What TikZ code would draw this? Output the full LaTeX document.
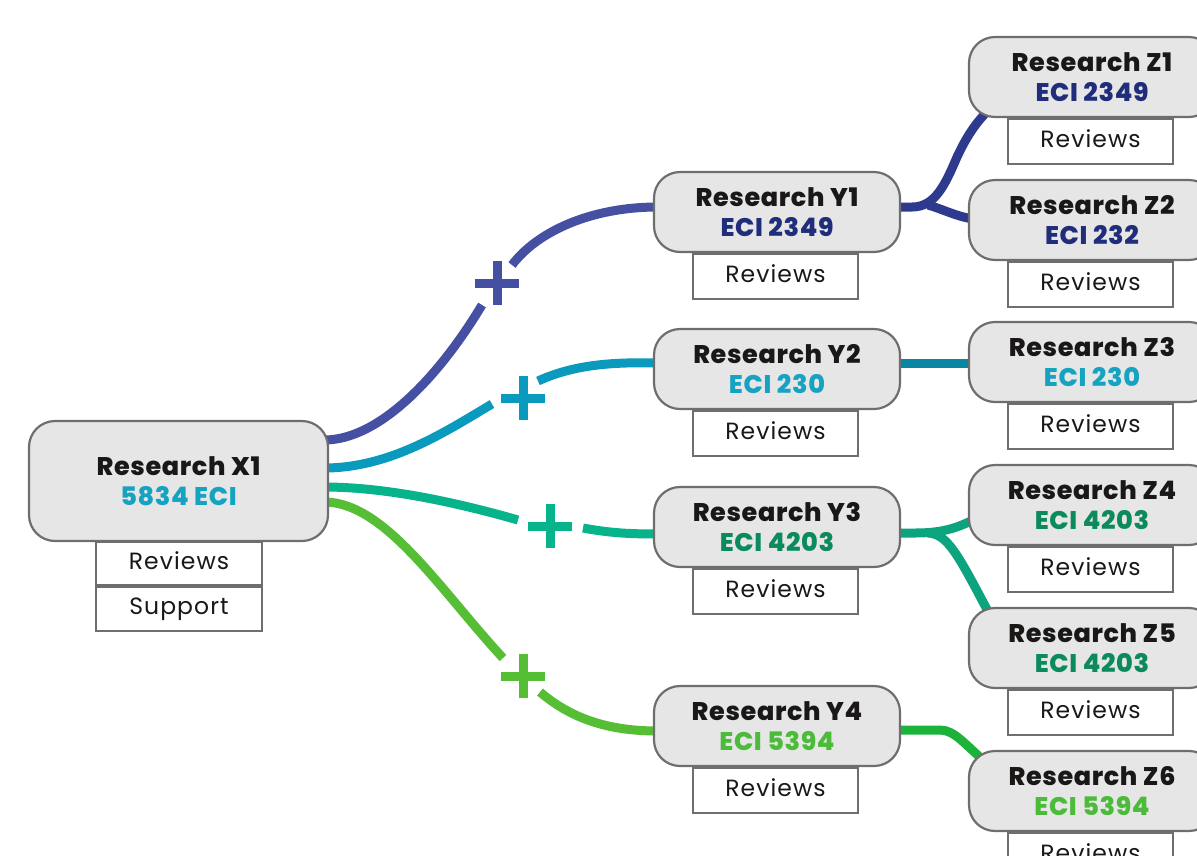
\documentclass[tikz,border=0pt]{standalone}
\usepackage{fontspec}
\setmainfont{Poppins}
\newfontfamily\revfont{Poppins}[LetterSpace=4.5]
\newfontfamily\headfont{Poppins ExtraBold}[LetterSpace=2.5]
\usetikzlibrary{calc,positioning}
\definecolor{nodefill}{HTML}{E6E6E6}
\definecolor{nodegray}{HTML}{6E6E6E}
\definecolor{headtext}{HTML}{1A1717}
\definecolor{tNavy}{HTML}{1F2D7B}
\definecolor{tTeal}{HTML}{16A3C2}
\definecolor{tGT}{HTML}{0B8A5C}
\definecolor{tGreen}{HTML}{4CBB3A}
\definecolor{cBlue}{HTML}{4550A2}
\definecolor{cBlueZ}{HTML}{2E3A8E}
\definecolor{cTeal}{HTML}{0A9ABD}
\definecolor{cTealZ}{HTML}{0A86A2}
\definecolor{cGT}{HTML}{06B38A}
\definecolor{cGTZ}{HTML}{0CA37F}
\definecolor{cGreen}{HTML}{55BE35}
\definecolor{cGreenZ}{HTML}{1BB33A}
\pgfdeclarelayer{bg}
\pgfdeclarelayer{mid}
\pgfsetlayers{bg,mid,main}
\tikzset{
  mainbox/.style={draw=nodegray, fill=nodefill, line width=2.2pt, rounded corners=26pt,
    minimum width=246pt, minimum height=80pt, align=center, inner sep=0pt,
    text=headtext, font=\headfont\fontsize{25.5}{30}\selectfont},
  revbox/.style={draw=nodegray, fill=white, line width=2pt, minimum width=165pt,
    minimum height=45pt, inner sep=0pt, anchor=north, text=headtext,
    text height=17pt, text depth=6pt,
    font=\revfont\fontsize{23.5}{28}\selectfont},
  conn/.style={line width=9pt},
  plusnode/.style={inner sep=0pt, minimum size=43pt, draw=none}
}
\begin{document}
\begin{tikzpicture}[x=1pt,y=-1pt]
\useasboundingbox (0,0) rectangle (1197,855);
\clip (0,0) rectangle (1197,855);
% main nodes
\node[mainbox, minimum width=299pt, minimum height=120pt] (x1) at (178.5,481) {Research X1\\\color{tTeal}5834 ECI};
\node[mainbox] (y1) at (777,212) {Research Y1\\\color{tNavy}ECI 2349};
\node[mainbox] (y2) at (777,369) {Research Y2\\\color{tTeal}ECI 230};
\node[mainbox] (y3) at (777,527) {Research Y3\\\color{tGT}ECI 4203};
\node[mainbox] (y4) at (777,726) {Research Y4\\\color{tGreen}ECI 5394};
\node[mainbox] (z1) at (1092,77) {Research Z1\\\color{tNavy}ECI 2349};
\node[mainbox] (z2) at (1092,220) {Research Z2\\\color{tNavy}ECI 232};
\node[mainbox] (z3) at (1092,362) {Research Z3\\\color{tTeal}ECI 230};
\node[mainbox] (z4) at (1092,505) {Research Z4\\\color{tGT}ECI 4203};
\node[mainbox] (z5) at (1092,648) {Research Z5\\\color{tGT}ECI 4203};
\node[mainbox] (z6) at (1092,791) {Research Z6\\\color{tGreen}ECI 5394};
% review boxes
\begin{pgfonlayer}{mid}
\node[revbox, minimum width=166pt, minimum height=43pt] (x1r) at (179,541) {Reviews};
\node[revbox, minimum width=166pt, minimum height=44pt] (x1s) at (x1r.south) {Support};
\node[revbox] (y1r) at ($(y1.south)+(-1.5,0)$) {Reviews};
\node[revbox] (y2r) at ($(y2.south)+(-1.5,0)$) {Reviews};
\node[revbox] (y3r) at ($(y3.south)+(-1.5,0)$) {Reviews};
\node[revbox] (y4r) at ($(y4.south)+(-1.5,0)$) {Reviews};
\node[revbox] (z1r) at ($(z1.south)+(-1.5,0)$) {Reviews};
\node[revbox] (z2r) at ($(z2.south)+(-1.5,0)$) {Reviews};
\node[revbox] (z3r) at ($(z3.south)+(-1.5,0)$) {Reviews};
\node[revbox] (z4r) at ($(z4.south)+(-1.5,0)$) {Reviews};
\node[revbox] (z5r) at ($(z5.south)+(-1.5,0)$) {Reviews};
\node[revbox] (z6r) at ($(z6.south)+(-1.5,0)$) {Reviews};
\end{pgfonlayer}
% plus signs
\node[plusnode] (pl1) at (497,283) {};
\node[plusnode] (pl2) at (523,398) {};
\node[plusnode] (pl3) at (550,526) {};
\node[plusnode] (pl4) at (523,676) {};
\draw[conn, cBlue] (pl1.west) -- (pl1.east) (pl1.north) -- (pl1.south);
\draw[conn, cTeal] (pl2.west) -- (pl2.east) (pl2.north) -- (pl2.south);
\draw[conn, cGT] (pl3.west) -- (pl3.east) (pl3.north) -- (pl3.south);
\draw[conn, cGreen] (pl4.west) -- (pl4.east) (pl4.north) -- (pl4.south);
% gap end points
\coordinate (p1a) at (482,305);
\coordinate (p1b) at (512,265);
\coordinate (p2a) at (492,404);
\coordinate (p2b) at (538,381);
\coordinate (p3a) at (518,520);
\coordinate (p3b) at (583,528);
\coordinate (p4a) at (503,658);
\coordinate (p4b) at (540,692);
\begin{pgfonlayer}{bg}
% X -> Y connectors
\draw[conn, cBlue] ($(x1.east)+(-5,-41)$) .. controls (380,440) and (440,375) .. (p1a);
\draw[conn, cBlue] (p1b) .. controls (537,232) and (590,207) .. ($(y1.west)+(5,-5)$);
\draw[conn, cTeal] ($(x1.east)+(-5,-13)$) .. controls (390,468) and (445,432) .. (p2a);
\draw[conn, cTeal] (p2b) .. controls (575,364) and (615,362) .. ($(y2.west)+(5,-6)$);
\draw[conn, cGT] ($(x1.east)+(-5,6)$) .. controls (385,487) and (455,502) .. (p3a);
\draw[conn, cGT] (p3b) .. controls (610,533) and (630,534) .. ($(y3.west)+(5,7)$);
\draw[conn, cGreen] ($(x1.east)+(-5,21)$) .. controls (385,502) and (440,590) .. (p4a);
\draw[conn, cGreen] (p4b) .. controls (575,722) and (615,731) .. ($(y4.west)+(5,5)$);
% Y -> Z connectors
\coordinate (j1) at (928,205);
\coordinate (j3) at (928,533);
\draw[conn, cBlueZ] ($(y1.east)+(-5,-5)$) -- (912,207) .. controls (935,207) and (945,185) .. (957,157) .. controls (965,140) and (975,122) .. ($(z1.south west)+(25,-12)$);
\draw[conn, cBlueZ] (j1) .. controls (945,210) and (955,216) .. ($(z2.west)+(5,-1)$);
\draw[conn, cTealZ] ($(y2.east)+(-5,-6)$) -- ($(z3.west)+(5,1)$);
\draw[conn, cGTZ] ($(y3.east)+(-5,6)$) -- (915,533) .. controls (940,533) and (955,529) .. ($(z4.west)+(5,15)$);
\draw[conn, cGTZ] (j3) .. controls (948,534) and (958,555) .. ($(z5.north west)+(22,8)$);
\draw[conn, cGreenZ] ($(y4.east)+(-5,4)$) -- (940,730) .. controls (955,730) and (965,745) .. ($(z6.north west)+(22,16)$);
\end{pgfonlayer}
\end{tikzpicture}
\end{document}
